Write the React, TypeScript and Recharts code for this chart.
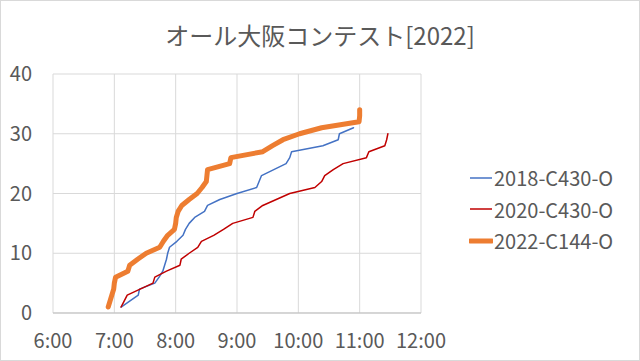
import React from 'react';
import { LineChart, Line, XAxis, YAxis, CartesianGrid } from 'recharts';

// time of day (hours) at which each count was reached
const times2018 = [7.11, 7.25, 7.39, 7.41, 7.66, 7.73, 7.79, 7.82, 7.85, 7.87, 7.9, 8.02, 8.12, 8.16, 8.22, 8.31, 8.47, 8.52, 8.72, 9.0, 9.32, 9.36, 9.4, 9.6, 9.8, 9.86, 9.89, 10.4, 10.65, 10.67, 10.9];
const times2020 = [7.11, 7.16, 7.21, 7.42, 7.63, 7.66, 7.85, 8.07, 8.09, 8.22, 8.36, 8.42, 8.62, 8.78, 8.93, 9.26, 9.29, 9.42, 9.64, 9.86, 10.27, 10.38, 10.43, 10.57, 10.73, 11.11, 11.15, 11.41, 11.44, 11.46];
const times2022 = [6.9, 6.93, 6.96, 6.99, 7.0, 7.02, 7.22, 7.25, 7.38, 7.52, 7.74, 7.8, 7.87, 7.98, 8.0, 8.01, 8.04, 8.1, 8.22, 8.35, 8.43, 8.5, 8.51, 8.52, 8.88, 8.9, 9.42, 9.58, 9.75, 10.02, 10.38, 10.99, 11.0, 11.0];

const seriesNames = ['2018-C430-O', '2020-C430-O', '2022-C144-O'];
const hourTicks = [6, 7, 8, 9, 10, 11, 12];
const countTicks = [0, 10, 20, 30, 40];

const toPoints = (times: number[]) => times.map((t, i) => ({ t, n: i + 1 }));

const FONT = '"Noto Sans CJK JP", "Noto Sans", sans-serif';
const colors = ['#4472C4', '#C00000', '#ED7D31'];
const widths = [1.5, 1.5, 5];

const LegendBox = () => (
  <div style={{ position: 'absolute', left: 468, top: 161, fontFamily: FONT, fontSize: 20, color: '#595959' }}>
    {seriesNames.map((name, i) => (
      <div key={name} style={{ display: 'flex', alignItems: 'center', height: 31.5 }}>
        <svg width={24} height={8} style={{ marginRight: 1 }}>
          <line x1={1} y1={4} x2={23} y2={4} stroke={colors[i]} strokeWidth={widths[i]} strokeLinecap={i === 2 ? 'round' : 'butt'} />
        </svg>
        <span>{name}</span>
      </div>
    ))}
  </div>
);

export default function App() {
  const data = [times2018, times2020, times2022].map(toPoints);
  return (
    <div style={{ position: 'absolute', left: 0, top: 0, width: 640, height: 361, boxSizing: 'border-box', border: '1px solid #d9d9d9', background: '#fff', fontFamily: FONT }}>
      <div style={{ position: 'absolute', left: 0, width: 638, top: 18, textAlign: 'center', fontSize: 24, color: '#595959', lineHeight: '32px' }}>
        オール大阪コンテスト[2022]
      </div>
      <LineChart width={638} height={359} margin={{ top: 73, right: 218, bottom: 17, left: 7 }}>
        <CartesianGrid stroke="#d9d9d9" />
        <XAxis
          type="number"
          dataKey="t"
          domain={[6, 12]}
          ticks={hourTicks}
          tickFormatter={(h: number) => `${h}:00`}
          allowDataOverflow
          height={30}
          tickSize={0}
          tickMargin={21}
          stroke="#bfbfbf"
          tick={{ fill: '#595959', fontSize: 20, fontFamily: FONT }}
        />
        <YAxis
          type="number"
          dataKey="n"
          domain={[0, 40]}
          ticks={countTicks}
          width={45}
          axisLine={false}
          tickSize={0}
          tickMargin={21}
          tick={{ fill: '#595959', fontSize: 20, fontFamily: FONT }}
        />
        {data.map((pts, i) => (
          <Line
            key={seriesNames[i]}
            data={pts}
            dataKey="n"
            name={seriesNames[i]}
            type="linear"
            stroke={colors[i]}
            strokeWidth={widths[i]}
            strokeLinecap="round"
            strokeLinejoin="round"
            dot={false}
            isAnimationActive={false}
          />
        ))}
      </LineChart>
      <LegendBox />
    </div>
  );
}
